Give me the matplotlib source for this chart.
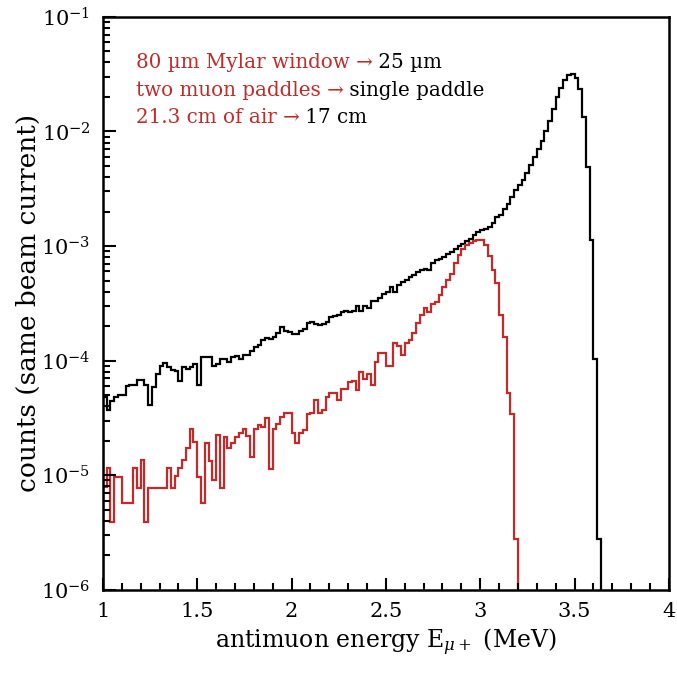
import numpy as np
import matplotlib
matplotlib.use("Agg")
import matplotlib.pyplot as plt
from matplotlib.ticker import MultipleLocator, LogLocator

# histogram binning (MeV)
e_min = 1.0
bin_width = 0.02

# log10(counts) per bin
black_log = [
    -4.32, -4.43, -4.35, -4.32, -4.30, -4.30, -4.22, -4.21, -4.21, -4.17,
    -4.17, -4.21, -4.39, -4.23, -4.12, -4.05, -4.02, -4.06, -4.08, -4.09,
    -4.18, -4.06, -4.07, -4.06, -4.03, -4.21, -3.97, -3.97, -3.97, -4.05,
    -4.03, -3.99, -3.99, -4.01, -3.97, -3.96, -3.99, -3.95, -3.95, -3.92,
    -3.88, -3.86, -3.82, -3.80, -3.81, -3.79, -3.76, -3.71, -3.74, -3.75,
    -3.77, -3.77, -3.74, -3.72, -3.67, -3.66, -3.68, -3.69, -3.68, -3.66,
    -3.62, -3.61, -3.60, -3.58, -3.57, -3.58, -3.57, -3.52, -3.57, -3.52,
    -3.54, -3.48, -3.48, -3.45, -3.42, -3.40, -3.36, -3.40, -3.34, -3.31,
    -3.30, -3.27, -3.25, -3.23, -3.21, -3.20, -3.21, -3.15, -3.12, -3.11,
    -3.10, -3.07, -3.05, -3.03, -3.00, -2.98, -2.96, -2.94, -2.90, -2.88,
    -2.86, -2.85, -2.83, -2.80, -2.75, -2.73, -2.68, -2.63, -2.57, -2.51,
    -2.47, -2.42, -2.36, -2.29, -2.22, -2.15, -2.08, -2.00, -1.91, -1.80,
    -1.70, -1.62, -1.55, -1.51, -1.50, -1.53, -1.63, -1.87, -2.31, -2.95,
    -3.99, -5.56,
]

red_log = [
    -5.10, -4.94, -5.41, -5.02, -5.02, -5.24, -5.24, -5.24, -4.94, -5.11,
    -4.87, -5.41, -5.11, -5.11, -5.11, -5.11, -5.11, -4.94, -5.11, -5.01,
    -4.94, -4.87, -4.76, -4.60, -4.71, -5.02, -5.24, -4.72, -4.88, -5.04,
    -4.65, -5.11, -4.67, -4.76, -4.72, -4.67, -4.63, -4.60, -4.66, -4.84,
    -4.60, -4.56, -4.58, -4.50, -4.95, -4.60, -4.55, -4.49, -4.46, -4.46,
    -4.63, -4.72, -4.63, -4.61, -4.47, -4.46, -4.34, -4.46, -4.43, -4.32,
    -4.28, -4.28, -4.34, -4.25, -4.25, -4.19, -4.18, -4.26, -4.10, -4.16,
    -4.12, -4.21, -4.01, -3.93, -3.93, -4.05, -4.05, -3.85, -3.87, -3.95,
    -3.85, -3.82, -3.76, -3.67, -3.60, -3.54, -3.58, -3.51, -3.49, -3.43,
    -3.36, -3.30, -3.24, -3.15, -3.08, -3.03, -2.99, -2.97, -2.96, -2.95,
    -2.95, -2.99, -3.09, -3.21, -3.32, -3.60, -3.79, -4.28, -4.47, -5.56,
]

note_red = ["80 µm Mylar window \u2192", "two muon paddles \u2192", "21.3 cm of air \u2192"]
note_black = [" 25 µm", " single paddle", " 17 cm"]

RED = "#c42a2a"

plt.rcParams["font.family"] = ["DejaVu Serif"]
plt.rcParams["mathtext.fontset"] = "dejavuserif"

fig = plt.figure(figsize=(6.77, 6.74), dpi=100)
ax = fig.add_axes([0.152, 0.125, 0.836, 0.85])

black = 10 ** np.array(black_log)
red = 10 ** np.array(red_log)
edges_b = e_min + bin_width * np.arange(len(black) + 1)
edges_r = e_min + bin_width * np.arange(len(red) + 1)

ax.stairs(black, edges_b, baseline=1e-8, color="black", lw=1.6)
ax.stairs(red, edges_r, baseline=1e-8, color=RED, lw=1.6)

ax.set_yscale("log")
ax.set_xlim(1, 4)
ax.set_ylim(1e-6, 1e-1)
ax.xaxis.set_major_locator(MultipleLocator(0.5))
ax.xaxis.set_minor_locator(MultipleLocator(0.1))
ax.yaxis.set_major_locator(LogLocator(base=10, numticks=10))
ax.yaxis.set_minor_locator(LogLocator(base=10, subs=np.arange(2, 10), numticks=10))
ax.set_xticks([1, 1.5, 2, 2.5, 3, 3.5, 4], ["1", "1.5", "2", "2.5", "3", "3.5", "4"])

ax.tick_params(which="both", direction="in", top=False, right=False, width=1.5,
               labelsize=15)
ax.tick_params(which="major", length=9, pad=9)
ax.tick_params(which="minor", length=5)
for s in ax.spines.values():
    s.set_linewidth(1.8)

ax.set_xlabel(r"antimuon energy E$_{\mu+}$ (MeV)", fontsize=17, labelpad=4)
ax.set_ylabel("counts (same beam current)", fontsize=19, labelpad=0)

ys = [0.903, 0.855, 0.808]
for t_red, t_blk, y in zip(note_red, note_black, ys):
    tr = ax.text(0.058, y, t_red, transform=ax.transAxes, color=RED,
                 fontsize=14.3, ha="left", va="bottom")
    ax.annotate(t_blk, xy=(1, 0), xycoords=tr, color="black",
                fontsize=14.3, ha="left", va="bottom")

fig.savefig("out.png", dpi=100)
